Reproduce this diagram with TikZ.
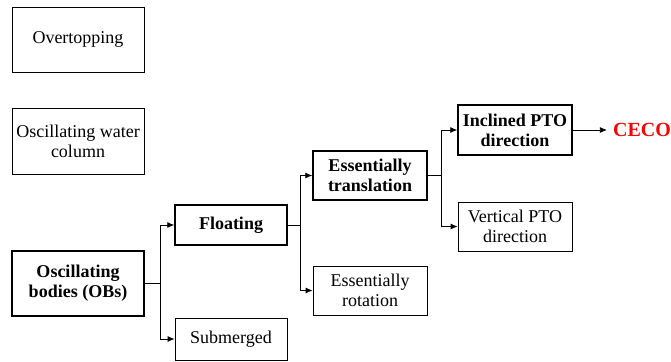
\documentclass[tikz,border=0pt]{standalone}
\usepackage{fontspec}
\setmainfont{Liberation Serif}
\usetikzlibrary{positioning,arrows.meta}

\begin{document}
\begin{tikzpicture}[x=1pt, y=-1pt,
    box/.style={draw, line width=0.8pt, align=center, inner sep=0pt,
                font=\fontsize{18}{20}\selectfont},
    keybox/.style={box, line width=1.5pt, font=\fontsize{18}{20}\selectfont\bfseries},
    arr/.style={-{Latex[length=7pt,width=6pt]}, line width=0.8pt}]
      \useasboundingbox (0,0) rectangle (671,361);
      % left column
      \node [box, minimum width=132pt, minimum height=65pt]    (over) at ( 78,  39.5) {Overtopping};
      \node [box, minimum width=132pt, minimum height=66pt]     (owc) at ( 78, 141.0) {Oscillating water\\column};
      \node [keybox, minimum width=132pt, minimum height=65pt]  (obs) at ( 78, 283.5) {Oscillating\\bodies (OBs)};
      % second column
      \node [keybox, minimum width=112pt, minimum height=40pt] (float) at (231, 225.0) {Floating};
      \node [box, minimum width=112pt, minimum height=42pt]      (sub) at (231, 339.0) {Submerged};
      % third column
      \node [keybox, minimum width=114pt, minimum height=49pt] (trans) at (370, 175.5) {Essentially\\translation};
      \node [box, minimum width=114pt, minimum height=49pt]      (rot) at (370, 290.5) {Essentially\\rotation};
      % fourth column
      \node [keybox, minimum width=114pt, minimum height=50pt]   (inc) at (515, 130.0) {Inclined PTO\\direction};
      \node [box, minimum width=114pt, minimum height=49pt]     (vert) at (515, 226.5) {Vertical PTO\\direction};
      \node [font=\fontsize{20}{22}\selectfont\bfseries, text=red, inner sep=6pt] (ceco) at (642, 130.0) {CECO};
      % connectors
      \draw [line width=0.8pt] (obs.east) -- ++(16,0) coordinate (j1);
      \draw [arr] (j1) |- (float.west);
      \draw [arr] (j1) |- (sub.west);
      \draw [line width=0.8pt] (float.east) -- ++(13,0) coordinate (j2);
      \draw [arr] (j2) |- (trans.west);
      \draw [arr] (j2) |- (rot.west);
      \draw [line width=0.8pt] (trans.east) -- ++(14,0) coordinate (j3);
      \draw [arr] (j3) |- (inc.west);
      \draw [arr] (j3) |- (vert.west);
      \draw [arr] (inc.east) -- (ceco.west);
\end{tikzpicture}
\end{document}
